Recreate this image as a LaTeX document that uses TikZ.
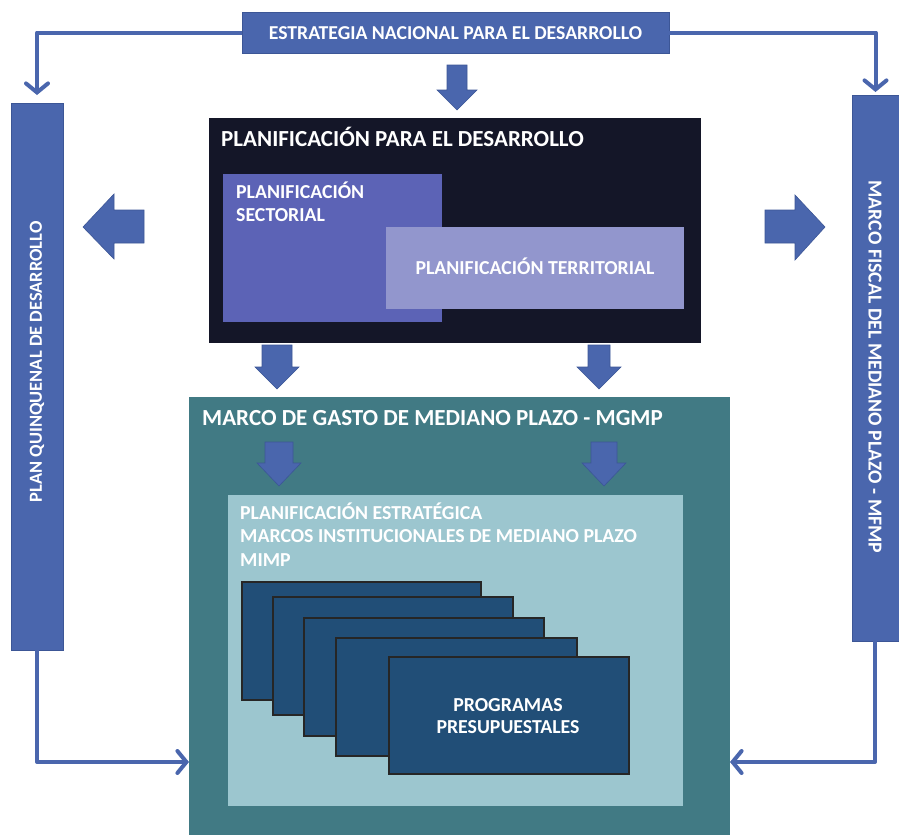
\documentclass[tikz,border=0pt]{standalone}
\usepackage{fontspec}
\setmainfont{Carlito}
\usetikzlibrary{arrows.meta}
\definecolor{blu}{HTML}{4A66AD}
\definecolor{bluedge}{HTML}{3C5696}
\definecolor{darkbg}{HTML}{141628}
\definecolor{sect}{HTML}{5C63B6}
\definecolor{terr}{HTML}{9296CD}
\definecolor{tealbg}{HTML}{417A84}
\definecolor{lightbg}{HTML}{9CC6CF}
\definecolor{cardbg}{HTML}{214E77}
\newcommand\dnblk[6]{\filldraw[blkarrow] (#1-#5,#2) -- (#1+#5,#2) -- (#1+#5,#3) -- (#1+#6,#3) -- (#1,#4) -- (#1-#6,#3) -- (#1-#5,#3) -- cycle;}
\begin{document}
\begin{tikzpicture}[x=1pt,y=-1pt,
  rect/.style={anchor=north west,inner sep=0pt,outer sep=0pt},
  bluebox/.style={rect,fill=blu,draw=bluedge,line width=0.8pt},
  card/.style={rect,fill=cardbg,draw=black!85,line width=1.2pt,minimum width=240pt,minimum height=118pt},
  lbl/.style={text=white,font=\bfseries\fontsize{19.8}{22}\selectfont,inner sep=0pt},
  ttl/.style={text=white,font=\bfseries\fontsize{23}{26}\selectfont,inner sep=0pt},
  blkarrow/.style={fill=blu,draw=bluedge,line width=0.6pt},
  conn/.style={draw=blu,line width=4pt,line join=round,-{Straight Barb[length=9pt,width=22pt,line cap=round]}}]
\useasboundingbox (0,0) rectangle (899,835);

% top box
\node[bluebox,minimum width=427pt,minimum height=41pt] (est) at (242,12) {};
\node[lbl,font=\bfseries\fontsize{19.7}{22}\selectfont,anchor=base] (estt) at (455.5,39) {ESTRATEGIA NACIONAL PARA EL DESARROLLO};

% side boxes
\node[bluebox,minimum width=52pt,minimum height=547pt] (pq) at (11,103) {};
\node[lbl,font=\bfseries\fontsize{18.4}{22}\selectfont,rotate=90] (pqt) at (37,362) {PLAN QUINQUENAL DE DESARROLLO};
\node[bluebox,minimum width=47pt,minimum height=546pt] (mf) at (852,95) {};
\node[lbl,rotate=-90] (mft) at (875,367) {MARCO FISCAL DEL MEDIANO PLAZO - MFMP};

% planning block
\node[rect,fill=darkbg,minimum width=492pt,minimum height=225pt] (plan) at (209,118) {};
\node[ttl,anchor=base west] (plant) at (221,146) {PLANIFICACIÓN PARA EL DESARROLLO};
\node[rect,fill=sect,minimum width=219pt,minimum height=148pt] (sec) at (223,174) {};
\node[lbl,anchor=base west] (sect1) at (236,198) {PLANIFICACIÓN};
\node[lbl,anchor=base west] (sect2) at (236,221) {SECTORIAL};
\node[rect,fill=terr,minimum width=298pt,minimum height=82pt] (ter) at (386,227) {};
\node[lbl,anchor=base] (tert) at (535,274) {PLANIFICACIÓN TERRITORIAL};

% MGMP block
\node[rect,fill=tealbg,minimum width=541pt,minimum height=438pt] (mgmp) at (189,397) {};
\node[ttl,anchor=base west] (mgmpt) at (202,425) {MARCO DE GASTO DE MEDIANO PLAZO - MGMP};
\node[rect,fill=lightbg,minimum width=455pt,minimum height=311pt] (mimp) at (228,495) {};
\node[lbl,anchor=base west] (mimp1) at (240,519) {PLANIFICACIÓN ESTRATÉGICA};
\node[lbl,anchor=base west] (mimp2) at (240,542) {MARCOS INSTITUCIONALES DE MEDIANO PLAZO};
\node[lbl,anchor=base west] (mimp3) at (240,566) {MIMP};

% cards
\node[card,minimum width=239pt] (c1) at (242,582) {};
\node[card] (c2) at (273,597) {};
\node[card] (c3) at (304,618) {};
\node[card,minimum width=241pt] (c4) at (336,638) {};
\node[card,minimum width=240pt,minimum height=117pt] (c5) at (389,657) {};
\node[lbl,anchor=base] (p1) at (508,711) {PROGRAMAS};
\node[lbl,anchor=base] (p2) at (508,733) {PRESUPUESTALES};

% block arrows
\dnblk{457}{65}{90}{110}{10}{20}
\dnblk{277}{345}{367}{389}{15}{22}
\dnblk{599}{345}{367}{389}{11}{22}
\dnblk{279}{442}{463}{486}{14}{22}
\dnblk{604}{442}{463}{486}{13}{22}
\filldraw[blkarrow] (144,210) -- (114,210) -- (114,194) -- (83,227) -- (114,259) -- (114,243) -- (144,243) -- cycle;
\filldraw[blkarrow] (765,210) -- (795,210) -- (795,195) -- (825,227) -- (795,260) -- (795,243) -- (765,243) -- cycle;

% connectors
\coordinate (lin) at (189,762);
\coordinate (rin) at (730,762);
\draw[conn,shorten >=8pt] (est.west) -| (pq.north);
\draw[conn,shorten >=3pt] (est.east) -| (mf.north);
\draw[conn] (pq.south) |- (lin);
\draw[conn] (mf.south -| 875,0) |- (rin);
\end{tikzpicture}
\end{document}
